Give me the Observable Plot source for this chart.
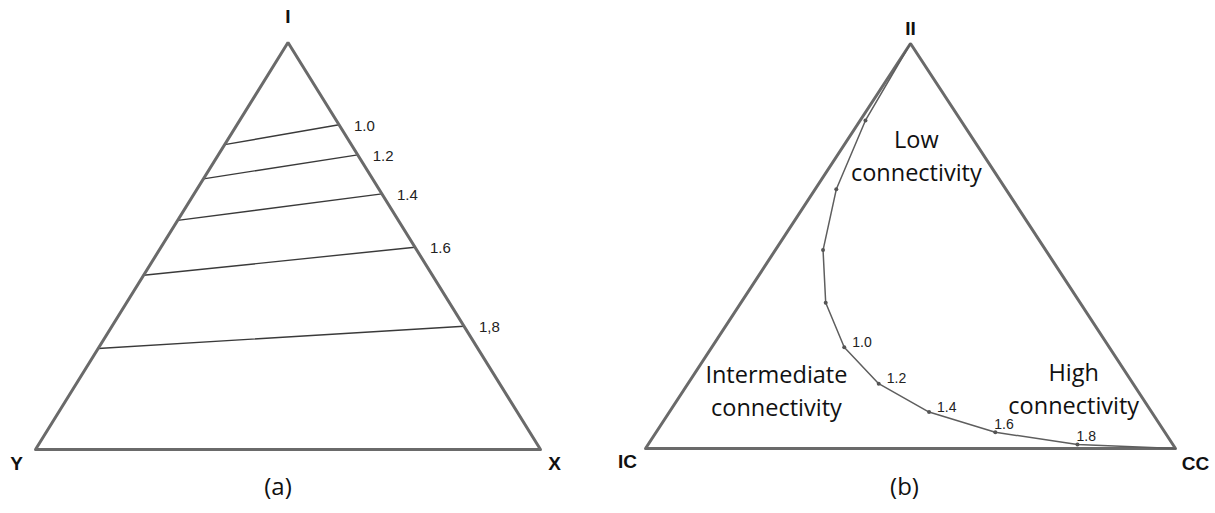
<!DOCTYPE html>
<html>
<head>
<meta charset="utf-8">
<script src="https://cdn.jsdelivr.net/npm/d3@7"></script>
<script src="https://cdn.jsdelivr.net/npm/@observablehq/plot@0.6"></script>
<style>
  body { margin: 0; background: #fff; }
  #chart { display: flex; width: 1215px; height: 513px; }
  #chart svg { overflow: visible; }
</style>
</head>
<body>
<div id="chart"></div>
<script>
// ---- Panel (a): iso-ratio lines across the I–Y–X triangle ----
const ratioLabelsA = ["1.0", "1.2", "1.4", "1.6", "1,8"];
// share of I where each line meets the Y–I side and the X–I side
const leftSideI  = [0.749, 0.665, 0.563, 0.428, 0.248];
const rightSideI = [0.798, 0.724, 0.628, 0.497, 0.303];

// ---- Panel (b): composition path from II to CC ----
const shareII = [1, 0.81, 0.64, 0.49, 0.36, 0.25, 0.16, 0.09, 0.04, 0.01, 0];
const shareCC = [0, 0.01, 0.04, 0.09, 0.16, 0.25, 0.36, 0.49, 0.64, 0.81, 1];
const pathLabelsB = ["", "", "", "", "", "1.0", "1.2", "1.4", "1.6", "1.8", ""];

// ternary (top share, right-corner share) -> planar unit triangle
const toXY = (top, right) => ({x: right + top / 2, y: top});

const EDGE = "#6a6a6a";
const SANS = "Liberation Sans, Arial, sans-serif";
const BODY = "Open Sans, sans-serif";

function frame(vertices) {
  // walk the three sides, repeating the first side so every corner gets a join
  const [top, left, right] = vertices.map(v => toXY(v.top, v.right));
  return Plot.line([left, right, top, left, right], {
    x: "x", y: "y", stroke: EDGE, strokeWidth: 3, strokeLinejoin: "miter"
  });
}

function vertexLabel(v, dx, dy) {
  const p = toXY(v.top, v.right);
  return Plot.text([{...p, name: v.name}], {
    x: "x", y: "y", text: "name", dx, dy,
    fontFamily: SANS, fontWeight: "bold", fontSize: 19, fill: "#111"
  });
}

// ---------- (a) ----------
const verticesA = [
  {name: "I", top: 1, right: 0},
  {name: "Y", top: 0, right: 0},
  {name: "X", top: 0, right: 1}
];
const isoLines = ratioLabelsA.flatMap((k, i) => [
  {k, ...toXY(leftSideI[i], 0)},
  {k, ...toXY(rightSideI[i], 1 - rightSideI[i])}
]);
const isoEnds = ratioLabelsA.map((k, i) => ({k, ...toXY(rightSideI[i], 1 - rightSideI[i])}));

const plotA = Plot.plot({
  width: 607, height: 513,
  marginLeft: 35, marginRight: 67, marginTop: 42, marginBottom: 64,
  x: {domain: [0, 1], axis: null},
  y: {domain: [0, 1], axis: null},
  style: {background: "#fff"},
  marks: [
    Plot.line(isoLines, {x: "x", y: "y", z: "k", stroke: "#3a3a3a", strokeWidth: 1.4}),
    frame(verticesA),
    Plot.text(isoEnds, {x: "x", y: "y", text: "k", dx: 15, dy: 1, textAnchor: "start",
      fontFamily: SANS, fontSize: 15, fill: "#222"}),
    vertexLabel(verticesA[0], 0, -26),
    vertexLabel(verticesA[1], -19, 14),
    vertexLabel(verticesA[2], 14, 14),
    Plot.text(["(a)"], {frameAnchor: "bottom", dx: -10, dy: 45,
      fontFamily: BODY, fontSize: 24, fill: "#111"})
  ]
});

// ---------- (b) ----------
const verticesB = [
  {name: "II", top: 1, right: 0},
  {name: "IC", top: 0, right: 0},
  {name: "CC", top: 0, right: 1}
];
const path = shareII.map((t, i) => ({label: pathLabelsB[i], ...toXY(t, shareCC[i])}));
const inner = path.slice(1, -1);
// labels on the steep part sit beside the point, those near the base sit above it
const steep = inner.filter(d => d.y > 0.05);
const flat = inner.filter(d => d.y <= 0.05);

const labelStyle = {x: "x", y: "y", text: "label", textAnchor: "start",
  fontFamily: SANS, fontSize: 14, fill: "#222"};

const plotB = Plot.plot({
  width: 608, height: 513,
  marginLeft: 38, marginRight: 40, marginTop: 43, marginBottom: 65,
  x: {domain: [0, 1], axis: null},
  y: {domain: [0, 1], axis: null},
  style: {background: "#fff"},
  marks: [
    frame(verticesB),
    Plot.line(path, {x: "x", y: "y", stroke: "#5e5e5e", strokeWidth: 1.5}),
    Plot.dot(inner, {x: "x", y: "y", r: 2, fill: "#555", stroke: null}),
    Plot.text(steep, {...labelStyle, dx: 8, dy: -5}),
    Plot.text(flat, {...labelStyle, dx: -1, dy: -8}),
    Plot.text(["Low\nconnectivity"], {x: 0.511, y: 0.727, lineHeight: 1.4,
      fontFamily: BODY, fontSize: 23.5, fill: "#111"}),
    Plot.text(["Intermediate\nconnectivity"], {x: 0.247, y: 0.147, lineHeight: 1.4,
      fontFamily: BODY, fontSize: 23.5, fill: "#111"}),
    Plot.text(["High\nconnectivity"], {x: 0.808, y: 0.153, lineHeight: 1.4,
      fontFamily: BODY, fontSize: 23.5, fill: "#111"}),
    vertexLabel(verticesB[0], 0, -15),
    vertexLabel(verticesB[1], -18, 13),
    vertexLabel(verticesB[2], 20, 15),
    Plot.text(["(b)"], {frameAnchor: "bottom", dx: -6, dy: 46,
      fontFamily: BODY, fontSize: 24, fill: "#111"})
  ]
});

const chart = document.getElementById("chart");
chart.append(plotA, plotB);
</script>
</body>
</html>
